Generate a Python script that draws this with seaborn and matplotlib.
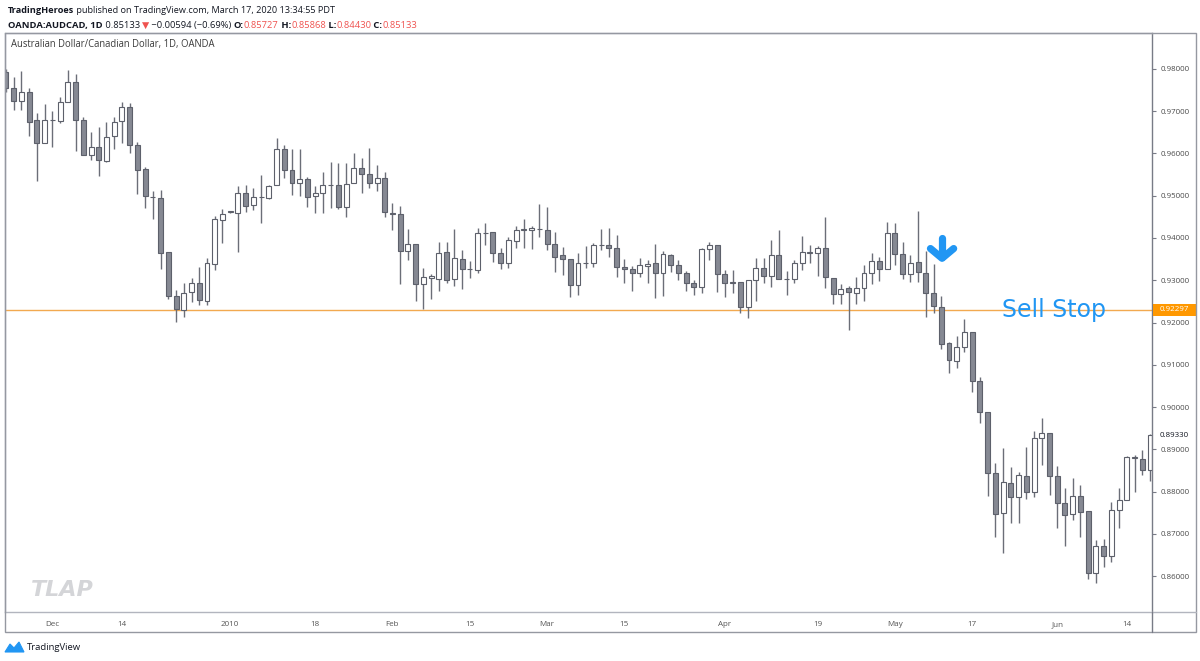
import numpy as np
import pandas as pd
import seaborn as sns
import matplotlib.pyplot as plt
from matplotlib.patches import Rectangle, Polygon
from matplotlib.lines import Line2D
import matplotlib.transforms as mtransforms

# OANDA:AUDCAD daily candles
opens = [0.9794, 0.9754, 0.9725, 0.9745, 0.9679, 0.9626, 0.9679, 0.9678, 0.9723, 0.9770,
         0.9679, 0.9596, 0.9616, 0.9583, 0.9641, 0.9678, 0.9709, 0.9619, 0.9563, 0.9498,
         0.9494, 0.9366, 0.9263, 0.9230, 0.9272, 0.9294, 0.9252, 0.9338, 0.9443, 0.9461,
         0.9460, 0.9507, 0.9478, 0.9496, 0.9494, 0.9525, 0.9610, 0.9561, 0.9529, 0.9539,
         0.9500, 0.9506, 0.9525, 0.9525, 0.9473, 0.9529, 0.9565, 0.9552, 0.9531, 0.9541,
         0.9459, 0.9456, 0.9370, 0.9385, 0.9290, 0.9306, 0.9302, 0.9366, 0.9302, 0.9350,
         0.9327, 0.9324, 0.9411, 0.9414, 0.9364, 0.9342, 0.9394, 0.9420, 0.9418, 0.9422,
         0.9419, 0.9385, 0.9360, 0.9350, 0.9289, 0.9341, 0.9340, 0.9383, 0.9383, 0.9376,
         0.9332, 0.9326, 0.9318, 0.9334, 0.9340, 0.9316, 0.9360, 0.9336, 0.9318, 0.9294,
         0.9283, 0.9373, 0.9383, 0.9314, 0.9297, 0.9297, 0.9236, 0.9301, 0.9328, 0.9310,
         0.9360, 0.9303, 0.9302, 0.9340, 0.9364, 0.9364, 0.9376, 0.9305, 0.9267, 0.9281,
         0.9271, 0.9282, 0.9318, 0.9346, 0.9326, 0.9411, 0.9362, 0.9315, 0.9343, 0.9318,
         0.9269, 0.9237, 0.9151, 0.9110, 0.9141, 0.9177, 0.9062, 0.8987, 0.8844, 0.8748,
         0.8821, 0.8786, 0.8837, 0.8800, 0.8927, 0.8939, 0.8837, 0.8772, 0.8746, 0.8790,
         0.8754, 0.8606, 0.8672, 0.8648, 0.8756, 0.8780, 0.8880, 0.8876, 0.8851]
highs = [0.9800, 0.9782, 0.9795, 0.9754, 0.9695, 0.9717, 0.9701, 0.9733, 0.9798, 0.9788,
         0.9687, 0.9652, 0.9663, 0.9675, 0.9687, 0.9723, 0.9719, 0.9628, 0.9569, 0.9512,
         0.9514, 0.9366, 0.9277, 0.9294, 0.9305, 0.9331, 0.9352, 0.9452, 0.9468, 0.9465,
         0.9523, 0.9525, 0.9518, 0.9549, 0.9526, 0.9636, 0.9620, 0.9610, 0.9610, 0.9545,
         0.9523, 0.9557, 0.9581, 0.9577, 0.9577, 0.9600, 0.9589, 0.9612, 0.9573, 0.9557,
         0.9482, 0.9476, 0.9421, 0.9385, 0.9328, 0.9315, 0.9390, 0.9390, 0.9421, 0.9372,
         0.9346, 0.9423, 0.9435, 0.9414, 0.9376, 0.9402, 0.9428, 0.9444, 0.9428, 0.9480,
         0.9474, 0.9415, 0.9378, 0.9350, 0.9364, 0.9381, 0.9387, 0.9421, 0.9423, 0.9407,
         0.9350, 0.9334, 0.9352, 0.9348, 0.9386, 0.9370, 0.9362, 0.9348, 0.9323, 0.9300,
         0.9376, 0.9391, 0.9383, 0.9324, 0.9324, 0.9297, 0.9301, 0.9352, 0.9352, 0.9395,
         0.9419, 0.9323, 0.9348, 0.9405, 0.9383, 0.9380, 0.9449, 0.9305, 0.9291, 0.9286,
         0.9307, 0.9336, 0.9364, 0.9356, 0.9439, 0.9436, 0.9391, 0.9360, 0.9465, 0.9370,
         0.9338, 0.9263, 0.9155, 0.9168, 0.9208, 0.9177, 0.9070, 0.8987, 0.8867, 0.8902,
         0.8859, 0.8845, 0.8906, 0.8944, 0.8973, 0.8939, 0.8861, 0.8808, 0.8831, 0.8815,
         0.8754, 0.8685, 0.8687, 0.8776, 0.8808, 0.8884, 0.8886, 0.8898, 0.8935]
lows = [0.9745, 0.9703, 0.9703, 0.9641, 0.9536, 0.9626, 0.9615, 0.9672, 0.9723, 0.9607,
        0.9596, 0.9585, 0.9547, 0.9581, 0.9610, 0.9624, 0.9602, 0.9504, 0.9470, 0.9444,
        0.9326, 0.9255, 0.9202, 0.9214, 0.9248, 0.9241, 0.9241, 0.9324, 0.9389, 0.9458,
        0.9368, 0.9462, 0.9466, 0.9436, 0.9493, 0.9525, 0.9541, 0.9502, 0.9499, 0.9473,
        0.9458, 0.9460, 0.9470, 0.9468, 0.9450, 0.9529, 0.9507, 0.9518, 0.9512, 0.9450,
        0.9419, 0.9291, 0.9348, 0.9251, 0.9231, 0.9256, 0.9275, 0.9294, 0.9287, 0.9279,
        0.9305, 0.9316, 0.9383, 0.9344, 0.9326, 0.9328, 0.9377, 0.9377, 0.9373, 0.9403,
        0.9372, 0.9320, 0.9312, 0.9260, 0.9265, 0.9328, 0.9331, 0.9372, 0.9355, 0.9307,
        0.9294, 0.9275, 0.9307, 0.9294, 0.9257, 0.9263, 0.9320, 0.9301, 0.9275, 0.9265,
        0.9270, 0.9348, 0.9273, 0.9260, 0.9271, 0.9222, 0.9210, 0.9252, 0.9293, 0.9283,
        0.9302, 0.9265, 0.9293, 0.9324, 0.9340, 0.9310, 0.9281, 0.9244, 0.9244, 0.9182,
        0.9244, 0.9252, 0.9291, 0.9299, 0.9326, 0.9336, 0.9302, 0.9297, 0.9297, 0.9212,
        0.9223, 0.9137, 0.9081, 0.9092, 0.9129, 0.9036, 0.8963, 0.8789, 0.8693, 0.8654,
        0.8726, 0.8725, 0.8782, 0.8786, 0.8863, 0.8792, 0.8714, 0.8671, 0.8733, 0.8692,
        0.8592, 0.8583, 0.8622, 0.8634, 0.8714, 0.8780, 0.8800, 0.8839, 0.8826]
closes = [0.9754, 0.9725, 0.9745, 0.9675, 0.9626, 0.9679, 0.9680, 0.9723, 0.9770, 0.9679,
          0.9596, 0.9616, 0.9585, 0.9640, 0.9675, 0.9709, 0.9619, 0.9561, 0.9500, 0.9496,
          0.9364, 0.9263, 0.9231, 0.9271, 0.9294, 0.9253, 0.9340, 0.9444, 0.9457, 0.9463,
          0.9507, 0.9476, 0.9496, 0.9497, 0.9523, 0.9610, 0.9561, 0.9530, 0.9539, 0.9498,
          0.9507, 0.9525, 0.9525, 0.9473, 0.9527, 0.9565, 0.9552, 0.9531, 0.9541, 0.9462,
          0.9457, 0.9370, 0.9385, 0.9290, 0.9307, 0.9311, 0.9364, 0.9300, 0.9352, 0.9327,
          0.9326, 0.9411, 0.9411, 0.9365, 0.9340, 0.9395, 0.9419, 0.9421, 0.9423, 0.9421,
          0.9385, 0.9356, 0.9350, 0.9289, 0.9340, 0.9342, 0.9383, 0.9384, 0.9376, 0.9332,
          0.9326, 0.9318, 0.9336, 0.9338, 0.9316, 0.9362, 0.9336, 0.9318, 0.9294, 0.9283,
          0.9373, 0.9383, 0.9314, 0.9293, 0.9293, 0.9236, 0.9301, 0.9328, 0.9310, 0.9360,
          0.9302, 0.9302, 0.9340, 0.9368, 0.9368, 0.9376, 0.9307, 0.9267, 0.9279, 0.9273,
          0.9281, 0.9318, 0.9346, 0.9326, 0.9411, 0.9362, 0.9315, 0.9340, 0.9320, 0.9269,
          0.9239, 0.9149, 0.9111, 0.9141, 0.9177, 0.9062, 0.8987, 0.8844, 0.8746, 0.8823,
          0.8786, 0.8839, 0.8800, 0.8926, 0.8939, 0.8837, 0.8773, 0.8744, 0.8790, 0.8752,
          0.8606, 0.8672, 0.8648, 0.8756, 0.8780, 0.8881, 0.8881, 0.8851, 0.8933]
start_date = "2009-11-23"

tick_dates = ["2009-12-01", "2009-12-14", "2010-01-01", "2010-01-18", "2010-02-01",
              "2010-02-15", "2010-03-01", "2010-03-15", "2010-04-01", "2010-04-19",
              "2010-05-03", "2010-05-17", "2010-06-01", "2010-06-14"]
tick_labels = ["Dec", "14", "2010", "18", "Feb", "15", "Mar", "15", "Apr", "19",
               "May", "17", "Jun", "14"]
price_ticks = [0.86, 0.87, 0.88, 0.89, 0.90, 0.91, 0.92, 0.93, 0.94, 0.95, 0.96, 0.97, 0.98]
sell_stop = 0.92297
last_price = 0.89330

df = pd.DataFrame({"date": pd.bdate_range(start_date, periods=len(opens)),
                   "open": opens, "high": highs, "low": lows, "close": closes})
df["i"] = np.arange(len(df))

sns.set_style("white")
plt.rcParams["font.family"] = ["Open Sans", "DejaVu Sans"]

W, H = 1200, 661
fig = plt.figure(figsize=(12, 6.61), dpi=100)
# chart pane in pixel terms: x 5..1152, y 33..612
ax = fig.add_axes([5 / W, (H - 612) / H, (1152 - 5) / W, (612 - 33) / H])

wick = "#6b6e78"
edge = "#5d606b"
down = "#868993"
ax.vlines(df["i"], df["low"], df["high"], color=wick, lw=1, zorder=1)
bottom = np.minimum(df["open"], df["close"])
height = np.maximum((df["close"] - df["open"]).abs(), 0.00008)
colors = np.where(df["close"] < df["open"], down, "white")
ax.bar(df["i"], height, bottom=bottom, width=0.64, color=colors,
       edgecolor=edge, linewidth=0.8, zorder=2)

# sell stop level
ax.axhline(sell_stop, color="#f2a950", lw=1, zorder=0)

ax.set_xlim(-0.13, 148.26)
ax.set_ylim(0.85148, 0.98852)

tick_idx = [int(df.index[df["date"] == pd.Timestamp(d)][0]) for d in tick_dates]
ax.set_xticks(tick_idx)
ax.set_xticklabels(tick_labels)
ax.set_yticks(price_ticks)
ax.set_yticklabels([f"{p:.5f}" for p in price_ticks])
ax.yaxis.tick_right()
ax.tick_params(axis="y", direction="out", length=3, width=0.8, color="#787b86",
               labelsize=5.7, labelcolor="#4a4a4a", pad=3)
ax.tick_params(axis="x", direction="out", length=2.5, width=0.8, color="#9598a1",
               labelsize=5.8, labelcolor="#555555", pad=4)
for s in ["left", "top", "bottom"]:
    ax.spines[s].set_color("#b2b5be")
    ax.spines[s].set_linewidth(1)
ax.spines["right"].set_color("#787b86")
ax.spines["right"].set_linewidth(1)

# price labels on the scale
tr = mtransforms.blended_transform_factory(ax.transAxes, ax.transData)
ax.add_patch(Rectangle((1.0008, sell_stop - 0.00135), 0.0375, 0.0027, transform=tr,
                       fc="#ff9800", ec="none", clip_on=False, zorder=6))
ax.text(1.0067, sell_stop, f"{sell_stop:.5f}", transform=tr, ha="left", va="center",
        fontsize=5.7, color="white", clip_on=False, zorder=7)
ax.text(1.0067, last_price, f"{last_price:.5f}", transform=tr, ha="left", va="center",
        fontsize=5.7, color="#131722", clip_on=False)

# title inside the pane
ax.text(6 / 1147, 1 - 12 / 579, "Australian Dollar/Canadian Dollar, 1D, OANDA",
        transform=ax.transAxes, ha="left", va="center", fontsize=6.85, color="#3c3c3c")

# sell stop annotation and arrow
ax.text(128.8, sell_stop, "Sell Stop", ha="left", va="center", fontsize=17,
        color="#2196f3", family=["DejaVu Sans"])
ax.plot([121.1, 121.1], [0.9401, 0.9355], color="#2196f3", lw=5.2,
        solid_capstyle="round", zorder=5)
ax.plot([119.6, 121.1, 122.6], [0.9375, 0.9352, 0.9375], color="#2196f3", lw=5.2,
        solid_capstyle="round", solid_joinstyle="round", zorder=5)

# watermark
ax.text(26 / 1147, 22 / 579, "TLAP", transform=ax.transAxes, fontsize=16,
        fontweight="bold", fontstyle="italic", color="#d4d5d8", ha="left", va="center",
        family=["DejaVu Sans"])

# frame, time-scale strip, price-scale separator
fig.add_artist(Rectangle((5 / W, (H - 632) / H), (1196 - 5) / W, (632 - 33) / H,
                         transform=fig.transFigure, fill=False, ec="#9598a1", lw=1))
fig.add_artist(Line2D([1152 / W, 1196 / W], [(H - 612) / H] * 2, color="#b2b5be", lw=1))
fig.add_artist(Line2D([1152 / W] * 2, [(H - 632) / H, (H - 612) / H], color="#787b86", lw=1))

# header lines with mixed styles
renderer = fig.canvas.get_renderer()


def chain(parts, x_px, y_px, size):
    x = x_px / W
    for txt, color, weight in parts:
        t = fig.text(x, 1 - y_px / H, txt, color=color, fontweight=weight,
                     fontsize=size, ha="left", va="baseline")
        x = t.get_window_extent(renderer).x1 / W


dark = "#131722"
red = "#ef5350"
chain([("TradingHeroes", dark, "bold"),
       (" published on TradingView.com, March 17, 2020 13:34:55 PDT", dark, "normal")],
      8, 13, 6.6)
chain([("OANDA:AUDCAD, 1D", dark, "bold"), (" 0.85133 ", dark, "normal"),
       ("▼", red, "normal"), (" \u22120.00594 (\u22120.69%) ", dark, "normal"),
       ("O:", dark, "bold"), ("0.85727", red, "normal"),
       (" H:", dark, "bold"), ("0.85868", red, "normal"),
       (" L:", dark, "bold"), ("0.84430", red, "normal"),
       (" C:", dark, "bold"), ("0.85133", red, "normal")],
      8, 28, 6.75)

# footer logo
logo = np.array([[5, 652], [10, 644], [14, 648], [19, 642], [24, 652]], dtype=float)
fig.add_artist(Polygon(np.column_stack([logo[:, 0] / W, 1 - logo[:, 1] / H]),
                       closed=True, transform=fig.transFigure, fc="#2196f3", ec="#2196f3",
                       lw=0.8))
fig.text(27 / W, 1 - 647 / H, "TradingView", fontsize=6.8, color=dark, ha="left", va="center")

fig.savefig("out.png", dpi=100)
